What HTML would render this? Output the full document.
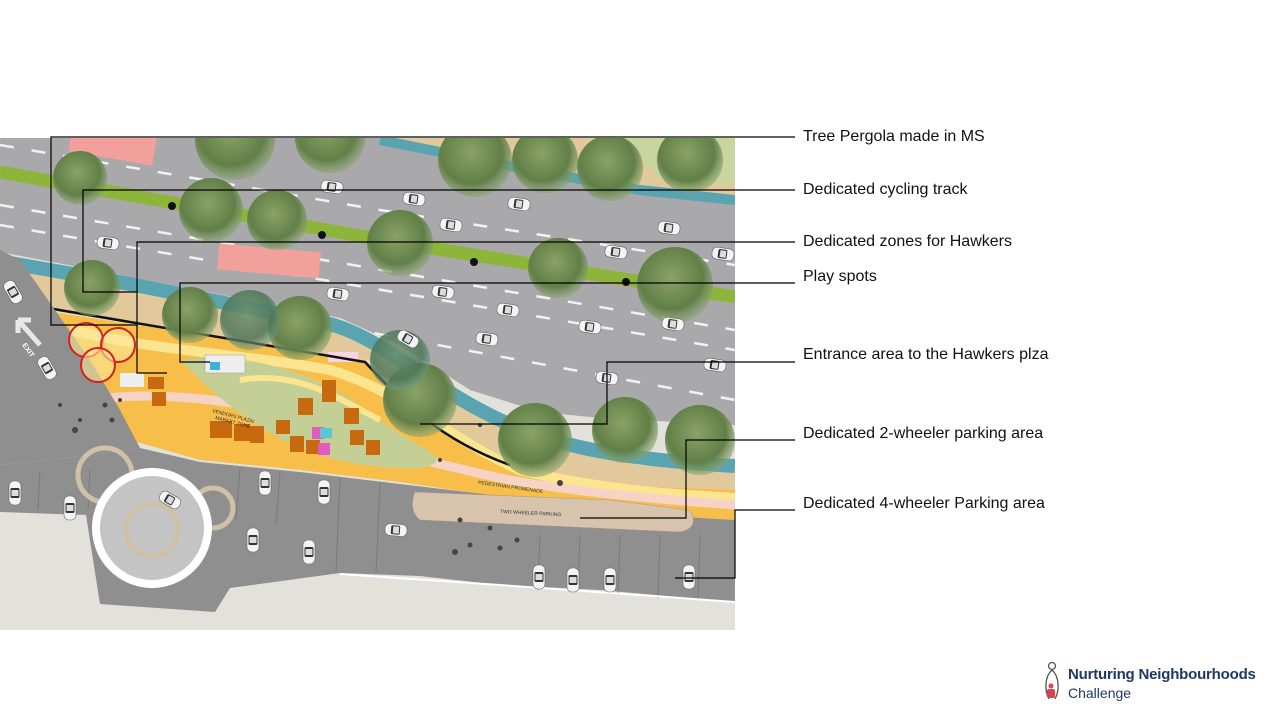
<!DOCTYPE html>
<html><head><meta charset="utf-8"><style>
body{margin:0;width:1280px;height:720px;background:#fff;overflow:hidden;position:relative;font-family:"Liberation Sans",sans-serif}
.lb{position:absolute;left:803px;font-size:16px;color:#111;line-height:18px;white-space:nowrap}
</style></head><body>
<svg width="1280" height="720" style="position:absolute;left:0;top:0">
<defs>
<radialGradient id="tr" cx="45%" cy="40%" r="60%"><stop offset="0" stop-color="#8aa366"/><stop offset="0.7" stop-color="#617f47"/><stop offset="1" stop-color="#86a36e" stop-opacity="0.55"/></radialGradient>
<radialGradient id="tb" cx="45%" cy="40%" r="60%"><stop offset="0" stop-color="#6b8f6a"/><stop offset="0.7" stop-color="#4d7659"/><stop offset="1" stop-color="#6d9a84" stop-opacity="0.6"/></radialGradient>
<clipPath id="cp"><rect x="0" y="138" width="735" height="492"/></clipPath>
<g id="car"><rect x="-11" y="-6" width="22" height="12" rx="5" fill="#f4f4f4" stroke="#666" stroke-width="0.6"/><rect x="-5" y="-4.5" width="9" height="9" rx="1.5" fill="#333"/><rect x="-3" y="-3.5" width="6" height="7" fill="#ddd"/></g>
<g id="vcar"><rect x="-6" y="-12" width="12" height="24" rx="5" fill="#f4f4f4" stroke="#666" stroke-width="0.6"/><rect x="-4.5" y="-5" width="9" height="10" rx="1.5" fill="#333"/><rect x="-3.5" y="-3" width="7" height="6" fill="#ddd"/></g>
</defs>
<g clip-path="url(#cp)">
<rect x="0" y="138" width="735" height="492" fill="#e3e1dc"/>
<polygon points="0,138 735,138 735,425 600,418 540,412 470,390 400,345 340,318 120,275 0,252" fill="#a9a9ab"/>
<polygon points="380,138 735,138 735,198 640,188 520,165 430,148" fill="#e2c99b"/>
<polygon points="620,138 735,138 735,185 660,178" fill="#c8d59f"/>
<path d="M380,140 L520,168 L640,190 L735,200" stroke="#5aa3b0" stroke-width="10" fill="none"/>
<g stroke="#f2f2f2" stroke-width="2.5" stroke-dasharray="14,18" fill="none">
<path d="M0,145 L380,210 L735,265"/>
<path d="M0,205 L735,330"/>
<path d="M0,225 L735,350"/>
<path d="M60,275 L735,400"/>
</g>
<path d="M0,172 L400,243 L735,297" stroke="#8db53a" stroke-width="13" fill="none"/>
<g fill="#111"><circle cx="172" cy="206" r="4"/><circle cx="322" cy="235" r="4"/><circle cx="474" cy="262" r="4"/><circle cx="626" cy="282" r="4"/></g>
<rect x="70" y="130" width="85" height="28" fill="#f1a09b" transform="rotate(10 110 145)"/>
<rect x="218" y="248" width="102" height="26" fill="#f1a09b" transform="rotate(5 270 260)"/>
<polygon points="0,262 130,282 330,322 380,340 440,380 500,420 560,450 640,465 735,470 735,500 600,495 515,470 440,420 368,360 60,312 20,300" fill="#e2c99b"/>
<path d="M10,263 L130,284 L330,324 C380,338 420,378 480,410 C540,442 600,458 735,466" stroke="#5aa3b0" stroke-width="14" fill="none"/>
<polygon points="40,310 365,360 430,420 515,468 600,485 735,490 735,520 600,512 500,497 400,482 300,470 200,460 130,440 90,400" fill="#f7bf4a"/>
<path d="M70,330 C150,350 250,355 330,370 C400,390 450,440 520,470 C600,490 680,495 735,498" stroke="#fbe68f" stroke-width="10" fill="none"/>
<path d="M95,400 C150,390 250,400 300,420 C360,445 420,460 500,478 C560,490 640,498 735,505" stroke="#f7d3c6" stroke-width="9" fill="none"/>
<path d="M180,360 C260,350 330,380 380,420 C420,450 460,460 420,468 C350,470 290,450 250,420 C220,400 200,380 180,360Z" fill="#c3cf95"/>
<path d="M240,380 C300,370 340,400 380,420" stroke="#fbe68f" stroke-width="6" fill="none"/>
<g fill="#c6690f"><rect x="210" y="421" width="22" height="17"/><rect x="234" y="424" width="16" height="17"/><rect x="250" y="426" width="14" height="17"/><rect x="276" y="420" width="14" height="14"/><rect x="298" y="398" width="15" height="17"/><rect x="322" y="380" width="14" height="22"/><rect x="290" y="436" width="14" height="16"/><rect x="306" y="440" width="14" height="14"/><rect x="344" y="408" width="15" height="16"/><rect x="350" y="430" width="14" height="15"/><rect x="366" y="440" width="14" height="15"/><rect x="148" y="377" width="16" height="12"/><rect x="152" y="392" width="14" height="14"/></g>
<rect x="312" y="427" width="12" height="12" fill="#e45bc0"/><rect x="320" y="428" width="12" height="10" fill="#5bc6d6"/><rect x="318" y="443" width="12" height="12" fill="#e45bc0"/>
<rect x="205" y="355" width="40" height="18" fill="#eee" stroke="#999" stroke-width="0.5"/>
<rect x="210" y="362" width="10" height="8" fill="#3ab1d9"/>
<rect x="120" y="373" width="24" height="14" fill="#eee"/>
<rect x="328" y="352" width="30" height="10" fill="#f6d6e2"/>
<path d="M30,305 L365,362 C400,400 440,440 510,465" stroke="#111" stroke-width="2.5" fill="none"/>
<polygon points="0,465 90,455 140,448 200,462 300,472 400,484 500,496 600,512 735,520 735,602 600,590 500,585 420,576 340,573 230,588 215,612 100,604 86,515 0,512" fill="#8f8f90"/>
<polygon points="0,250 20,260 90,360 120,410 140,448 90,455 0,465" fill="#8f8f90"/>
<g stroke="#7a7a7a" stroke-width="1"><path d="M40,470 L38,510"/><path d="M90,470 L88,510"/><path d="M240,468 L236,520"/><path d="M280,472 L276,525"/><path d="M340,478 L336,572"/><path d="M380,482 L376,572"/><path d="M540,535 L538,590"/><path d="M580,535 L578,592"/><path d="M620,535 L618,595"/><path d="M660,535 L658,598"/><path d="M700,535 L698,600"/></g>
<path d="M415,492 L610,500 L690,510 Q700,528 680,532 L420,520 Q408,510 415,492Z" fill="#d8c4ad" stroke="#a89886" stroke-width="0.5"/>
<path d="M340,574 L500,585 L735,602" stroke="#fff" stroke-width="2" fill="none"/>
<circle cx="105" cy="475" r="27" fill="none" stroke="#cfc0a8" stroke-width="5"/>
<circle cx="213" cy="508" r="20" fill="none" stroke="#cfc0a8" stroke-width="5"/>
<circle cx="152" cy="528" r="56" fill="#c4c4c4" stroke="#fff" stroke-width="8"/>
<circle cx="152" cy="530" r="26" fill="none" stroke="#cfc0a8" stroke-width="5"/>
<path d="M40,345 L18,320 M18,320 L18,333 M18,320 L31,320" stroke="#e8e8e8" stroke-width="5" fill="none"/>
<text x="22" y="345" font-size="7" fill="#fff" font-weight="bold" transform="rotate(55 22 345)">EXIT</text>
<g fill="#fbe89a" fill-opacity="0.6" stroke="#d81e1e" stroke-width="2"><circle cx="86" cy="340" r="17"/><circle cx="118" cy="345" r="17"/><circle cx="98" cy="365" r="17"/></g>
<g fill="url(#tr)">
<circle cx="80" cy="178" r="27"/><circle cx="211" cy="210" r="32"/><circle cx="277" cy="220" r="30"/><circle cx="400" cy="243" r="33"/><circle cx="558" cy="268" r="30"/><circle cx="675" cy="285" r="38"/>
<circle cx="92" cy="288" r="28"/><circle cx="190" cy="315" r="28"/><circle cx="300" cy="328" r="32"/>
<circle cx="235" cy="140" r="40"/><circle cx="330" cy="138" r="35"/><circle cx="475" cy="160" r="37"/><circle cx="545" cy="160" r="33"/><circle cx="610" cy="168" r="33"/><circle cx="690" cy="160" r="33"/>
<circle cx="420" cy="400" r="37"/><circle cx="535" cy="440" r="37"/><circle cx="625" cy="430" r="33"/><circle cx="700" cy="440" r="35"/>
</g>
<g fill="url(#tb)" opacity="0.85"><circle cx="250" cy="320" r="30"/><circle cx="400" cy="360" r="30"/></g>
<g>
<use href="#car" transform="translate(332,187) rotate(8)"/><use href="#car" transform="translate(414,199) rotate(8)"/><use href="#car" transform="translate(451,225) rotate(8)"/><use href="#car" transform="translate(519,204) rotate(8)"/><use href="#car" transform="translate(669,228) rotate(8)"/>
<use href="#car" transform="translate(108,243) rotate(8)"/><use href="#car" transform="translate(338,294) rotate(8)"/><use href="#car" transform="translate(443,292) rotate(8)"/><use href="#car" transform="translate(508,310) rotate(8)"/><use href="#car" transform="translate(616,252) rotate(8)"/><use href="#car" transform="translate(487,339) rotate(8)"/><use href="#car" transform="translate(590,327) rotate(8)"/><use href="#car" transform="translate(607,378) rotate(8)"/><use href="#car" transform="translate(715,365) rotate(8)"/><use href="#car" transform="translate(408,339) rotate(30)"/><use href="#car" transform="translate(723,254) rotate(8)"/><use href="#car" transform="translate(673,324) rotate(8)"/>
<use href="#car" transform="translate(396,530) rotate(5)"/><use href="#car" transform="translate(170,500) rotate(30)"/>
<use href="#vcar" transform="translate(13,292) rotate(-30)"/><use href="#vcar" transform="translate(47,368) rotate(-30)"/>
<use href="#vcar" transform="translate(15,493)"/><use href="#vcar" transform="translate(70,508)"/><use href="#vcar" transform="translate(265,483)"/><use href="#vcar" transform="translate(324,492)"/><use href="#vcar" transform="translate(253,540)"/><use href="#vcar" transform="translate(309,552)"/><use href="#vcar" transform="translate(539,577)"/><use href="#vcar" transform="translate(573,580)"/><use href="#vcar" transform="translate(610,580)"/><use href="#vcar" transform="translate(689,577)"/>
</g>
<g fill="#444"><circle cx="75" cy="430" r="3"/><circle cx="80" cy="420" r="2"/><circle cx="105" cy="405" r="2.5"/><circle cx="112" cy="420" r="2.5"/><circle cx="120" cy="400" r="2"/><circle cx="60" cy="405" r="2"/><circle cx="460" cy="520" r="2.5"/><circle cx="470" cy="545" r="2.5"/><circle cx="490" cy="528" r="2.5"/><circle cx="500" cy="548" r="2.5"/><circle cx="455" cy="552" r="3"/><circle cx="517" cy="540" r="2.5"/><circle cx="440" cy="460" r="2"/><circle cx="480" cy="425" r="2"/><circle cx="560" cy="483" r="3"/></g>
<text x="212" y="412" font-size="5" fill="#333" transform="rotate(15 212 412)">VENDORS PLAZA/</text>
<text x="215" y="419" font-size="5" fill="#333" transform="rotate(15 215 419)">MARKET ZONE</text>
<text x="478" y="484" font-size="5" fill="#333" transform="rotate(8 478 484)">PEDESTRIAN PROMENADE</text>
<text x="500" y="513" font-size="5" fill="#333" transform="rotate(3 500 513)">TWO WHEELER PARKING</text>
</g>
<g stroke="#000" stroke-width="1.2" fill="none">
<path d="M795,137 H51 V325 H137"/>
<path d="M795,190 H83 V292 H137"/>
<path d="M795,242 H137 V373 H167"/>
<path d="M795,283 H180 V362 H210"/>
<path d="M795,362 H607 V424 H420"/>
<path d="M795,440 H686 V518 H580"/>
<path d="M795,510 H735 V578 H675"/>
</g>
<g fill="none" stroke="#555" stroke-width="1.3"><circle cx="1052" cy="666" r="3.5"/><path d="M1052,670 C1045,676 1044,690 1049,699 M1052,670 C1059,676 1060,690 1055,699"/></g>
<circle cx="1051" cy="686" r="2.5" fill="#d64550"/><rect x="1047" y="689" width="8" height="9" rx="2" fill="#d64550"/>
</svg>
<div class="lb" style="top:128px">Tree Pergola made in MS</div>
<div class="lb" style="top:181px">Dedicated cycling track</div>
<div class="lb" style="top:233px">Dedicated zones for Hawkers</div>
<div class="lb" style="top:268px">Play spots</div>
<div class="lb" style="top:346px">Entrance area to the Hawkers plza</div>
<div class="lb" style="top:425px">Dedicated 2-wheeler parking area</div>
<div class="lb" style="top:495px">Dedicated 4-wheeler Parking area</div>
<div style="position:absolute;left:1068px;top:666px;font-size:15px;font-weight:bold;color:#1f3864;white-space:nowrap;letter-spacing:-0.2px">Nurturing Neighbourhoods</div>
<div style="position:absolute;left:1068px;top:685px;font-size:14px;color:#1f3864;white-space:nowrap">Challenge</div>
</body></html>
